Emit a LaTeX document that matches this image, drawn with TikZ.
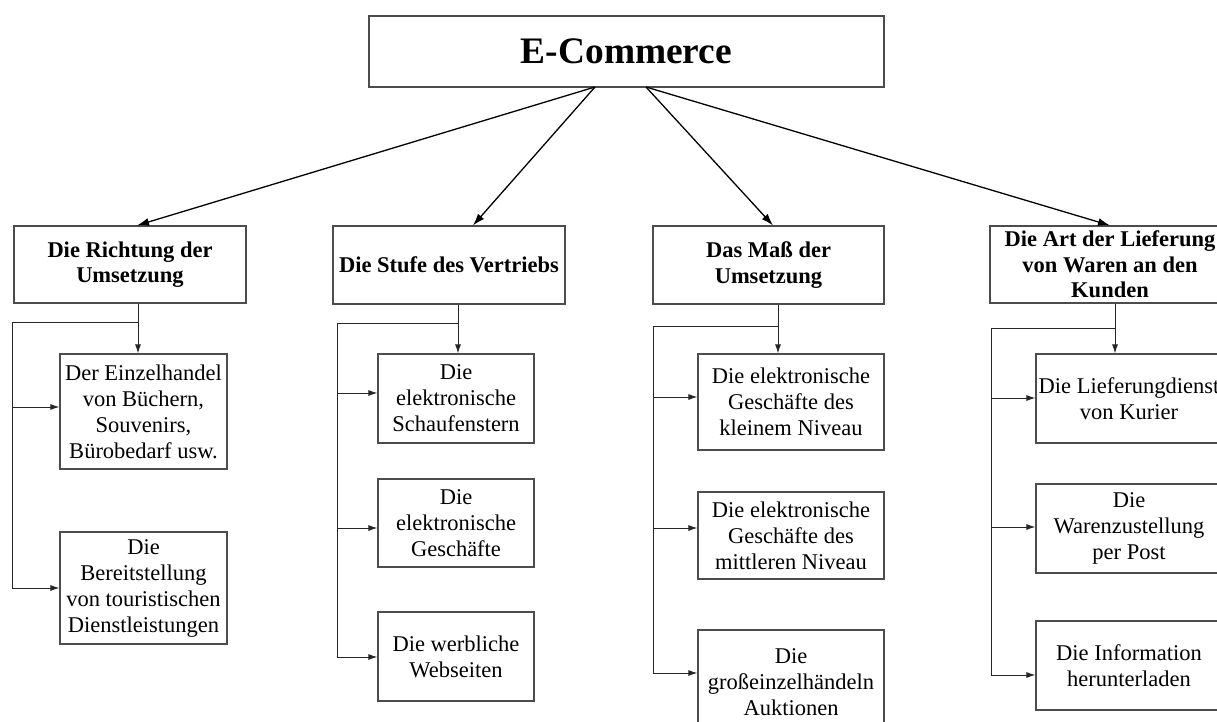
\documentclass[tikz,border=0pt]{standalone}
\usepackage{fontspec}
\setmainfont{Liberation Serif}
\usetikzlibrary{arrows.meta}
\begin{document}
\begin{tikzpicture}[x=1bp,y=-1bp,
  rect/.style={draw=black!70, line width=1.1bp, inner sep=0pt, align=center},
  body/.style={rect, font=\fontsize{22.5bp}{26bp}\selectfont},
  cat/.style={rect, font=\fontsize{22.5bp}{25.5bp}\selectfont\bfseries},
  bigarr/.style={line width=1.3bp, -{Latex[length=12bp,width=8bp]}},
  smallarr/.style={line width=1bp, draw=black!85, -{Latex[length=9bp,width=6bp]}},
  bus/.style={line width=1bp, draw=black!85}]
\useasboundingbox (0,0) rectangle (1217,722);
% top
\node[rect, minimum width=515bp, minimum height=71bp, font=\fontsize{37.4bp}{40bp}\selectfont\bfseries] (top) at (626.5,51.5) {E-Commerce};
% categories
\node[cat, minimum width=232bp, minimum height=77bp] (c1) at (130,264.5) {Die Richtung der\\Umsetzung};
\node[cat, minimum width=232bp, minimum height=78bp] (c2) at (449,265) {Die Stufe des Vertriebs};
\node[cat, minimum width=231bp, minimum height=78bp] (c3) at (768.5,265) {Das Maß der\\Umsetzung};
\node[cat, minimum width=240bp, minimum height=77bp] (c4) at (1110,264.5) {Die Art der Lieferung\\von Waren an den\\Kunden};
% children
\node[body, minimum width=167bp, minimum height=115bp] (ch11) at (143.5,411.5) {Der Einzelhandel\\von Büchern,\\Souvenirs,\\Bürobedarf usw.};
\node[body, minimum width=167bp, minimum height=112bp] (ch12) at (143.5,588) {Die\\Bereitstellung\\von touristischen\\Dienstleistungen};
\node[body, minimum width=156bp, minimum height=89bp] (ch21) at (456,398.5) {Die\\elektronische\\Schaufenstern};
\node[body, minimum width=156bp, minimum height=88bp] (ch22) at (456,523) {Die\\elektronische\\Geschäfte};
\node[body, minimum width=156bp, minimum height=89bp] (ch23) at (456,656.5) {Die werbliche\\Webseiten};
\node[body, minimum width=186bp, minimum height=96bp] (ch31) at (791,402) {Die elektronische\\Geschäfte des\\kleinem Niveau};
\node[body, minimum width=186bp, minimum height=87bp] (ch32) at (791,535.5) {Die elektronische\\Geschäfte des\\mittleren Niveau};
\node[body, minimum width=186bp, minimum height=105bp] (ch33) at (791,682.5) {Die\\großeinzelhändeln\\Auktionen};
\node[body, minimum width=186bp, minimum height=89bp] (ch41) at (1129,398.5) {Die Lieferungdienst\\von Kurier};
\node[body, minimum width=186bp, minimum height=89bp] (ch42) at (1129,528.5) {Die\\Warenzustellung\\per Post};
\node[body, minimum width=186bp, minimum height=89bp] (ch43) at (1129,665.5) {Die Information\\herunterladen};
% top arrows
\coordinate (tL) at (595,87);
\coordinate (tR) at (646,87);
\draw[bigarr] (tL) -- (c1.north -| 137,0);
\draw[bigarr] (tL) -- (c2.north -| 473,0);
\draw[bigarr] (tR) -- (c3.north -| 773,0);
\draw[bigarr] (tR) -- (c4.north -| 1110,0);
% column 1
\coordinate (b1) at (138,322);
\draw[smallarr] (c1.south -| b1) -- (ch11.north -| b1);
\draw[bus] (b1) -| (12,588) coordinate (e12);
\draw[smallarr] (e12) -- (ch12.west |- e12);
\coordinate (e11) at (12,407);
\draw[smallarr] (e11) -- (ch11.west |- e11);
% column 2
\coordinate (b2) at (458,323);
\draw[smallarr] (c2.south -| b2) -- (ch21.north -| b2);
\draw[bus] (b2) -| (337,657) coordinate (e23);
\draw[smallarr] (e23) -- (ch23.west |- e23);
\coordinate (e21) at (337,393);
\coordinate (e22) at (337,528);
\draw[smallarr] (e21) -- (ch21.west |- e21);
\draw[smallarr] (e22) -- (ch22.west |- e22);
% column 3
\coordinate (b3) at (778,326);
\draw[smallarr] (c3.south -| b3) -- (ch31.north -| b3);
\draw[bus] (b3) -| (653,673) coordinate (e33);
\draw[smallarr] (e33) -- (ch33.west |- e33);
\coordinate (e31) at (653,397);
\coordinate (e32) at (653,528);
\draw[smallarr] (e31) -- (ch31.west |- e31);
\draw[smallarr] (e32) -- (ch32.west |- e32);
% column 4
\coordinate (b4) at (1115,328);
\draw[smallarr] (c4.south -| b4) -- (ch41.north -| b4);
\draw[bus] (b4) -| (991,675) coordinate (e43);
\draw[smallarr] (e43) -- (ch43.west |- e43);
\coordinate (e41) at (991,398);
\coordinate (e42) at (991,527);
\draw[smallarr] (e41) -- (ch41.west |- e41);
\draw[smallarr] (e42) -- (ch42.west |- e42);
\end{tikzpicture}
\end{document}
